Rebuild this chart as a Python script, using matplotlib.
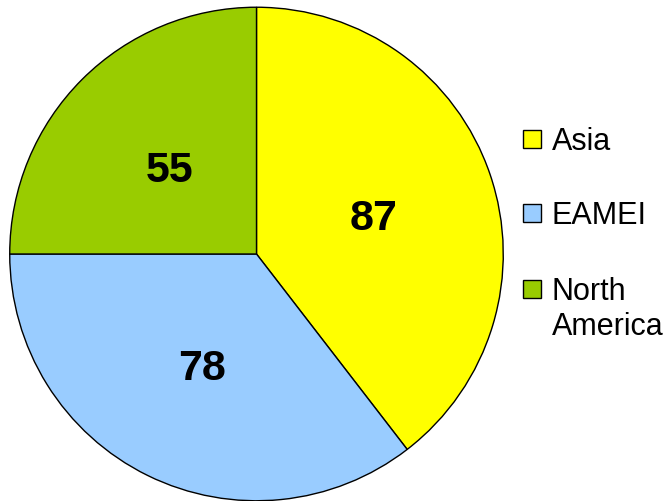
import matplotlib.pyplot as plt
from matplotlib.patches import Rectangle

regions = ['Asia', 'EAMEI', 'North\nAmerica']
values = [87, 78, 55]
colors = ['#FFFF00', '#99CCFF', '#99CC00']

plt.rcParams['font.family'] = ['Liberation Sans', 'DejaVu Sans']

fig = plt.figure(figsize=(6.65, 5.02), dpi=100)
ax = fig.add_axes([8.5 / 665, -1 / 502, 496 / 665, 496 / 502])

total = sum(values)
wedges, texts, autotexts = ax.pie(
    values, colors=colors, startangle=90, counterclock=False,
    autopct=lambda p: f'{p * total / 100:.0f}', pctdistance=0.5,
    wedgeprops=dict(edgecolor='black', linewidth=1.0),
    textprops=dict(fontsize=31, fontweight='bold', color='black'))
for t in autotexts:
    x, y = t.get_position()
    t.set_position((x, y - 0.015))
ax.set_aspect('equal')
ax.set_xlim(-1.005, 1.005)
ax.set_ylim(-1.005, 1.005)

# legend drawn by hand to match layout
rows_y = [140, 214, 290]
for lab, col, y in zip(regions, colors, rows_y):
    fig.patches.append(Rectangle((523 / 665, 1 - (y + 9) / 502), 18 / 665, 18 / 502,
                                 transform=fig.transFigure, facecolor=col,
                                 edgecolor='black', linewidth=1.0))
    for i, line in enumerate(lab.split('\n')):
        fig.text(552 / 665, 1 - (y + 10 + 35 * i) / 502, line, fontsize=22,
                 va='baseline', ha='left')

fig.savefig('out.png', dpi=100)
